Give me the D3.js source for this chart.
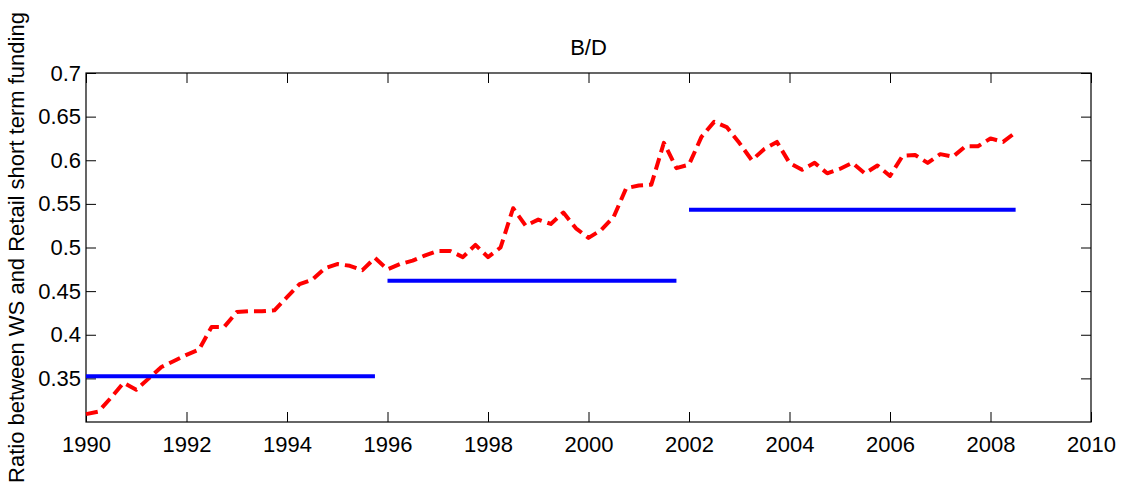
<!DOCTYPE html>
<html>
<head>
<meta charset="utf-8">
<script src="https://d3js.org/d3.v7.min.js"></script>
<style>
  body { margin: 0; background: #fff; }
  text { font-family: "Liberation Sans", Arial, sans-serif; }
</style>
</head>
<body>
<div id="grafico"></div>
<script>
// Dados trimestrais, 1990 Q1 a 2008 Q3
const inicio = 1990
const passo = 0.25
const razao = [
  0.309, 0.312, 0.328, 0.345, 0.337, 0.350, 0.363, 0.370,
  0.377, 0.383, 0.409, 0.409, 0.426, 0.427, 0.427, 0.428,
  0.443, 0.458, 0.463, 0.476, 0.481, 0.479, 0.474, 0.488,
  0.475, 0.481, 0.485, 0.491, 0.496, 0.496, 0.489, 0.503,
  0.489, 0.500, 0.545, 0.525, 0.532, 0.527, 0.540, 0.522,
  0.511, 0.520, 0.535, 0.568, 0.571, 0.572, 0.620, 0.591,
  0.595, 0.627, 0.644, 0.638, 0.620, 0.600, 0.613, 0.621,
  0.597, 0.589, 0.597, 0.585, 0.590, 0.597, 0.585, 0.594,
  0.582, 0.605, 0.606, 0.597, 0.607, 0.604, 0.616, 0.616,
  0.625, 0.621, 0.632
]

// Médias por período
const periodos_inicio = [1990, 1996, 2002]
const periodos_fim = [1995.75, 2001.75, 2008.5]
const medias = [0.3525, 0.462, 0.5433]

const ticks_x = [1990, 1992, 1994, 1996, 1998, 2000, 2002, 2004, 2006, 2008, 2010]
const ticks_y = [0.35, 0.4, 0.45, 0.5, 0.55, 0.6, 0.65, 0.7]

const titulo = 'B/D'
const rotulo_y = 'Ratio between WS and Retail short term funding'

// Montagem dos pontos da série
const serie = razao.map((v, i) => ({ ano: inicio + i * passo, valor: v }))

const largura = 1129, altura = 488
const margem = { esq: 86, dir: 38, topo: 73, base: 66 }

const svg = d3.select('#grafico').append('svg')
  .attr('width', largura)
  .attr('height', altura)

const x = d3.scaleLinear().domain([1990, 2010]).range([margem.esq, largura - margem.dir])
const y = d3.scaleLinear().domain([0.3, 0.7]).range([altura - margem.base, margem.topo])

const fonte = 22

// Eixos com ticks para dentro (estilo MATLAB)
svg.append('g')
  .attr('transform', `translate(0,${y(0.3)})`)
  .call(d3.axisBottom(x).tickValues(ticks_x).tickFormat(d3.format('d')).tickSizeInner(-10).tickSizeOuter(0).tickPadding(14))
svg.append('g')
  .attr('transform', `translate(0,${y(0.7)})`)
  .call(d3.axisTop(x).tickValues(ticks_x).tickFormat('').tickSizeInner(-10).tickSizeOuter(0))
svg.append('g')
  .attr('transform', `translate(${x(1990)},0)`)
  .call(d3.axisLeft(y).tickValues(ticks_y).tickFormat(d => String(+d.toFixed(2))).tickSizeInner(-10).tickSizeOuter(0).tickPadding(5))
svg.append('g')
  .attr('transform', `translate(${x(2010)},0)`)
  .call(d3.axisRight(y).tickValues(ticks_y).tickFormat('').tickSizeInner(-10).tickSizeOuter(0))

svg.selectAll('.domain').remove()
svg.selectAll('.tick line').attr('stroke', '#000').attr('stroke-width', 1)
svg.selectAll('.tick text').attr('font-size', fonte).attr('fill', '#000')
  .attr('font-family', '"Liberation Sans", Arial, sans-serif')

// Caixa do gráfico
svg.append('rect')
  .attr('x', x(1990)).attr('y', y(0.7))
  .attr('width', x(2010) - x(1990)).attr('height', y(0.3) - y(0.7))
  .attr('fill', 'none').attr('stroke', '#000').attr('stroke-width', 1.2)

// Linha tracejada vermelha
const linha = d3.line().x(d => x(d.ano)).y(d => y(d.valor))
svg.append('path')
  .datum(serie)
  .attr('d', linha)
  .attr('fill', 'none')
  .attr('stroke', '#ff0000')
  .attr('stroke-width', 4)
  .attr('stroke-dasharray', '12,6')
  .attr('stroke-linejoin', 'round')

// Médias por período (linhas azuis)
svg.selectAll('.media')
  .data(medias)
  .enter().append('line')
  .attr('class', 'media')
  .attr('x1', (d, i) => x(periodos_inicio[i]))
  .attr('x2', (d, i) => x(periodos_fim[i]))
  .attr('y1', d => y(d))
  .attr('y2', d => y(d))
  .attr('stroke', '#0000ff')
  .attr('stroke-width', 4)

// Título
svg.append('text')
  .attr('x', (x(1990) + x(2010)) / 2)
  .attr('y', 55)
  .attr('text-anchor', 'middle')
  .attr('font-size', fonte)
  .text(titulo)

// Rótulo do eixo y
svg.append('text')
  .attr('transform', `translate(24,${(y(0.3) + y(0.7)) / 2}) rotate(-90)`)
  .attr('text-anchor', 'middle')
  .attr('font-size', fonte)
  .text(rotulo_y)
</script>
</body>
</html>
